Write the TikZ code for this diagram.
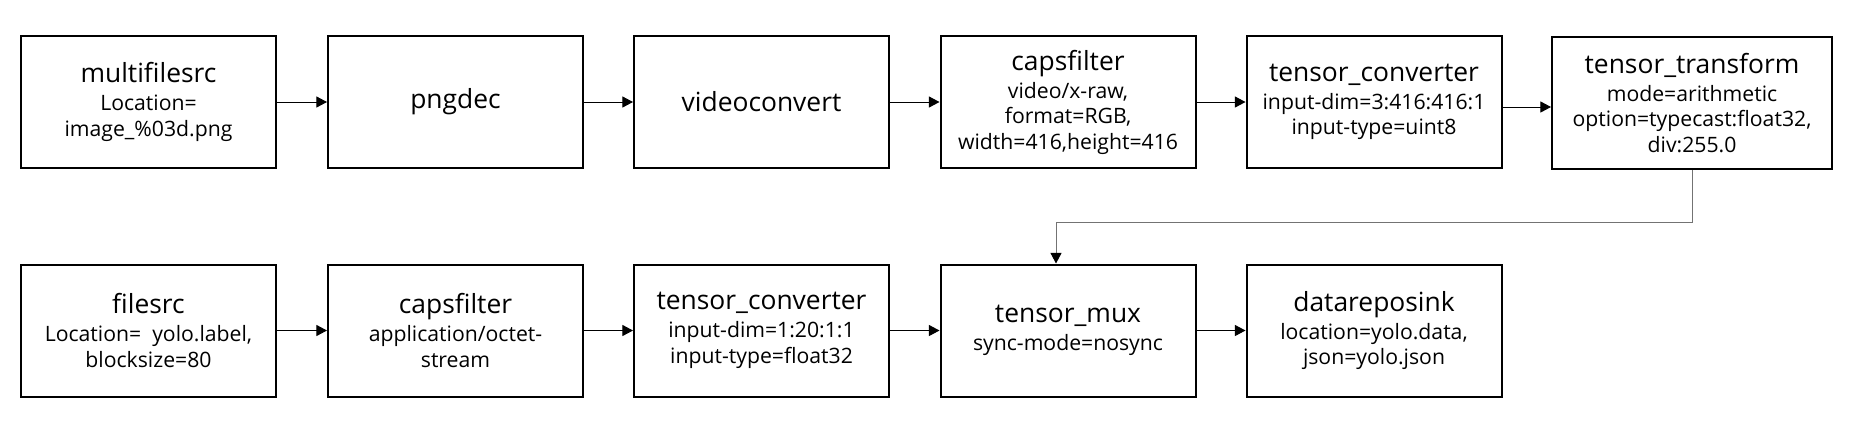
\documentclass[tikz,border=0pt]{standalone}
\usepackage{fontspec}
\setmainfont{Open Sans}
\usetikzlibrary{arrows.meta}

\tikzset{
  blk/.style={draw, line width=1pt, minimum width=127.5pt, minimum height=66pt,
    inner sep=0pt, align=center, font=\fontsize{10.6}{12.75}\selectfont},
  flow/.style={-{Triangle[length=5.3pt,width=5.5pt,color=black]}, line width=0.5pt},
}
\newcommand{\ttl}[1]{{\fontsize{13.2}{15}\selectfont #1}}

\begin{document}
\begin{tikzpicture}[x=0.5pt,y=-0.5pt]
            \useasboundingbox (0,0) rectangle (1850,435);
            % first row
            \node[blk] (mfs) at (148.5,102) {\ttl{multifilesrc}\\[1.25pt] Location=\\ image\_\%03d.png};
            \node[blk] (png) at (455.5,102) {\ttl{pngdec}};
            \node[blk] (vconv) at (761.5,102) {\ttl{videoconvert}};
            \node[blk] (caps1) at (1068,102) {\ttl{capsfilter}\\[1.25pt] video/x-raw,\\ format=RGB,\\ width=416,height=416};
            \node[blk] (conv1) at (1374,102) {\ttl{tensor\_converter}\\[1.25pt] input-dim=3:416:416:1\\ input-type=uint8};
            \node[blk,minimum width=140pt] (tf) at (1692,103) {\ttl{tensor\_transform}\\[1.25pt] mode=arithmetic\\ option=typecast:float32,\\ div:255.0};
            \coordinate (tfin) at ([yshift=-2pt]tf.west);
            % second row
            \node[blk] (fsrc) at (148.5,330.5) {\ttl{filesrc}\\[1.25pt] Location=\ \ yolo.label,\\ blocksize=80};
            \node[blk] (caps2) at (455.5,330.5) {\ttl{capsfilter}\\[1.25pt] application/octet-\\ stream};
            \node[blk] (conv2) at (761.5,330.5) {\ttl{tensor\_converter}\\[1.25pt] input-dim=1:20:1:1\\ input-type=float32};
            \node[blk] (mux) at (1068,330.5) {\ttl{tensor\_mux}\\[1.25pt] sync-mode=nosync};
            \node[blk] (sink) at (1374,330.5) {\ttl{datareposink}\\[1.25pt] location=yolo.data,\\ json=yolo.json};
            % arrows
            \draw[flow] (mfs) -- (png);
            \draw[flow] (png) -- (vconv);
            \draw[flow] (vconv) -- (caps1);
            \draw[flow] (caps1) -- (conv1);
            \draw[flow] (conv1.east |- tfin) -- (tfin);
            \draw[flow,draw=black!55] (tf.south) -- (tf.south |- 0,222) -| ([xshift=-6pt]mux.north);
            \draw[flow] (fsrc) -- (caps2);
            \draw[flow] (caps2) -- (conv2);
            \draw[flow] (conv2) -- (mux);
            \draw[flow] (mux) -- (sink);
        \end{tikzpicture}
\end{document}
